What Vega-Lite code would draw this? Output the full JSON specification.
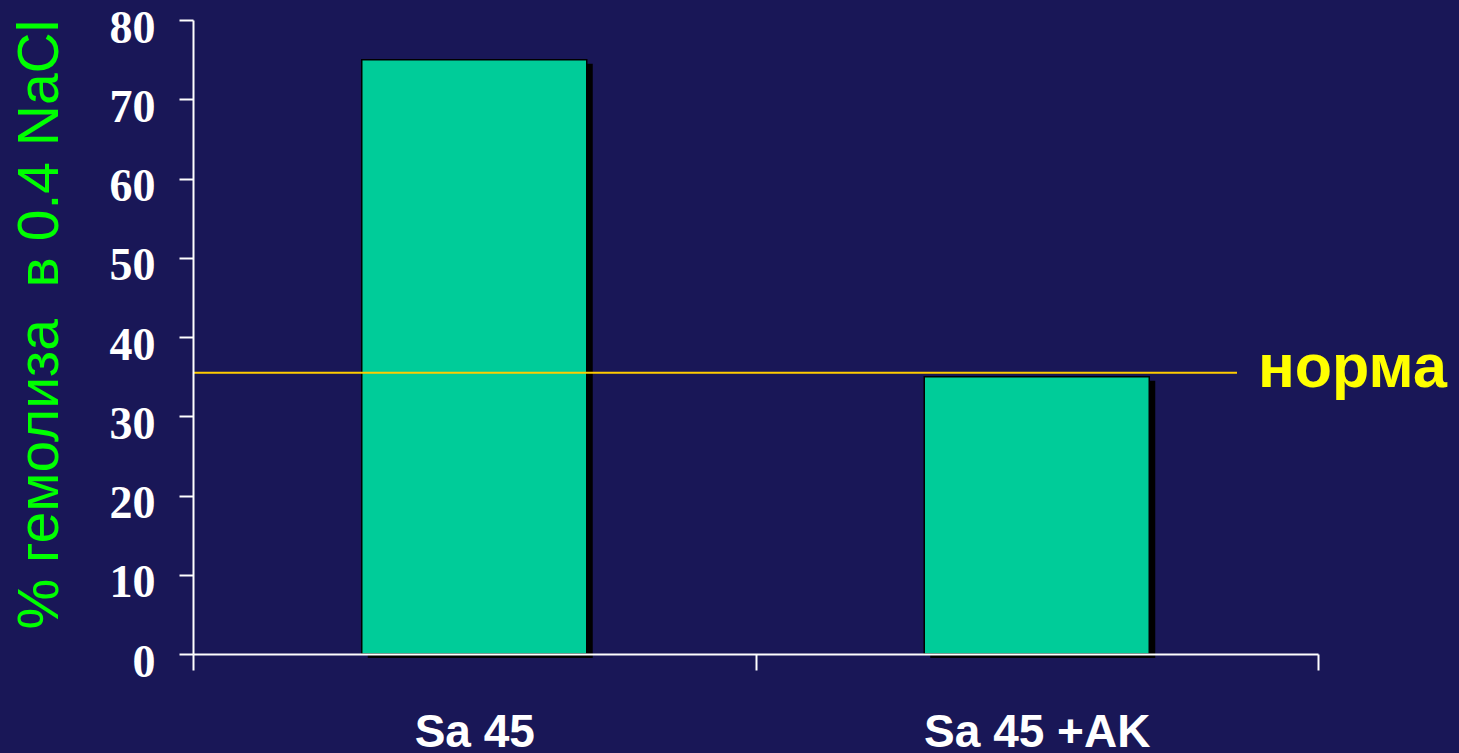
{
  "$schema": "https://vega.github.io/schema/vega-lite/v6.json",
  "autosize": "none",
  "width": 1125,
  "height": 634,
  "padding": {"left": 193, "top": 20, "right": 141, "bottom": 99},
  "background": "#191757",
  "config": {"view": {"stroke": null}},
  "datasets": {
    "hemolysis": [
      {"group": "Sa 45", "value": 75},
      {"group": "Sa 45 +AK", "value": 35}
    ],
    "norm": [
      {"level": 35.5, "label": "норма"}
    ]
  },
  "layer": [
    {
      "data": {"name": "hemolysis"},
      "encoding": {
        "x": {
          "field": "group", "type": "nominal", "sort": null,
          "scale": {"paddingInner": 0, "paddingOuter": 0},
          "axis": {
            "title": null, "labelAngle": 0, "zindex": 1, "labelLimit": 0,
            "domainColor": "#ffffff", "domainWidth": 2,
            "tickColor": "#ffffff", "tickWidth": 2, "tickSize": 16, "tickBand": "extent",
            "labelColor": "#ffffff", "labelFont": "Liberation Sans", "labelFontWeight": "bold",
            "labelFontSize": 46, "labelBaseline": "alphabetic", "labelPadding": 76
          }
        },
        "y": {
          "field": "value", "type": "quantitative",
          "scale": {"domain": [0, 80], "nice": false},
          "axis": {
            "title": "% гемолиза \u00a0в 0.4 NaCl",
            "titleColor": "#00ff00", "titleFont": "Liberation Sans", "titleFontWeight": "normal",
            "titleFontSize": 57, "titleAngle": -90, "titleAlign": "center", "titleBaseline": "alphabetic",
            "titleX": -136, "titleY": 304, "titleLimit": 0,
            "values": [0, 10, 20, 30, 40, 50, 60, 70, 80],
            "grid": false, "zindex": 1,
            "domainColor": "#ffffff", "domainWidth": 2,
            "tickColor": "#ffffff", "tickWidth": 2, "tickSize": 14,
            "labelColor": "#ffffff", "labelFont": "Liberation Serif", "labelFontWeight": "bold",
            "labelFontSize": 46, "labelPadding": 24, "labelBaseline": "middle", "labelOffset": 8
          }
        }
      },
      "layer": [
        {"mark": {"type": "bar", "color": "#000000", "xOffset": 6, "yOffset": 4, "width": {"band": 0.4}}},
        {"mark": {"type": "bar", "color": "#00cc99", "stroke": "#000000", "strokeWidth": 1.5, "width": {"band": 0.4}}}
      ]
    },
    {
      "data": {"name": "norm"},
      "encoding": {
        "x": {"datum": 0, "type": "quantitative", "scale": {"domain": [0, 1], "nice": false, "zero": false}, "axis": null},
        "y": {"field": "level", "type": "quantitative"}
      },
      "layer": [
        {
          "mark": {"type": "rule", "color": "#ffcc00", "strokeWidth": 2},
          "encoding": {"x2": {"datum": 0.928}}
        },
        {
          "mark": {"type": "text", "color": "#ffff00", "font": "Liberation Sans", "fontWeight": "bold", "fontSize": 61, "align": "left", "baseline": "alphabetic", "dx": 21, "dy": 14},
          "encoding": {
            "x": {"datum": 0.928, "type": "quantitative"},
            "text": {"field": "label"}
          }
        }
      ]
    }
  ],
  "resolve": {"scale": {"x": "independent"}, "axis": {"x": "independent"}}
}
